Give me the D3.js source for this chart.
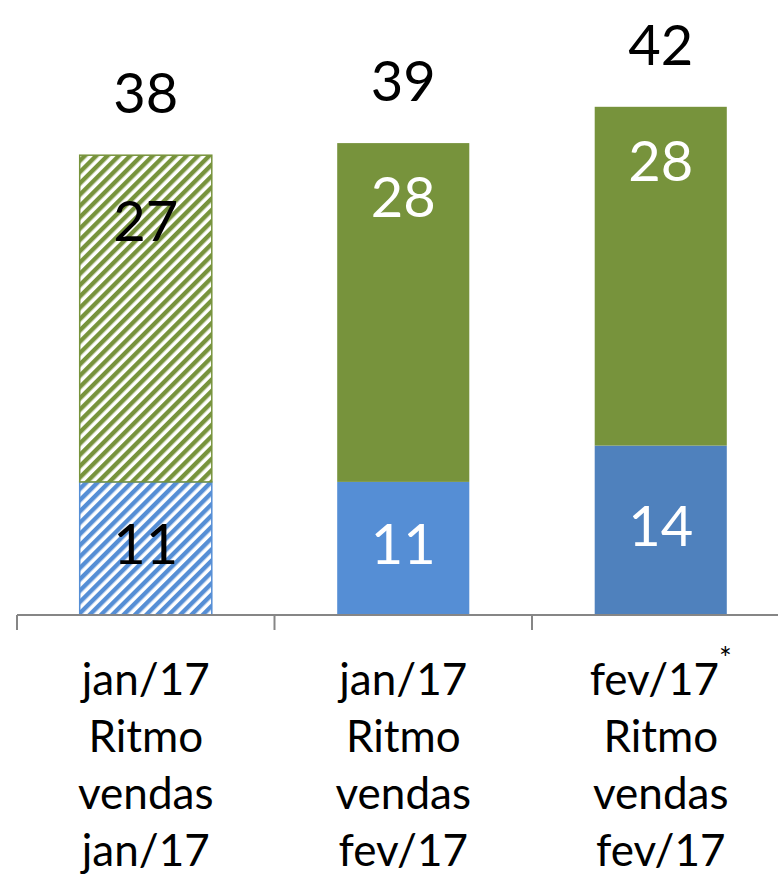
<!DOCTYPE html>
<html>
<head>
<meta charset="utf-8">
<script src="https://cdn.jsdelivr.net/npm/d3@7"></script>
<style>
  body { margin: 0; background: #fff; }
  text { font-family: Lato, "Noto Sans", sans-serif; }
</style>
</head>
<body>
<div id="chart"></div>
<script>
// chart data
var categories = ["a", "b", "c"];
var catLines = [
  ["jan/17", "Ritmo", "vendas", "jan/17"],
  ["jan/17", "Ritmo", "vendas", "fev/17"],
  ["fev/17", "Ritmo", "vendas", "fev/17"]
];
var catNote = ["", "", "*"];
var blueValues = [11, 11, 14];
var greenValues = [27, 28, 28];
var totals = [38, 39, 42];
var hatched = [true, false, false];

var svgWidth = 778;
var svgHeight = 875;
var baseY = 615;

var svg = d3.select("#chart")
  .append("svg")
  .attr("width", svgWidth)
  .attr("height", svgHeight);

// hatch patterns
var defs = svg.append("defs");
function hatch(id, color) {
  var p = defs.append("pattern")
    .attr("id", id)
    .attr("patternUnits", "userSpaceOnUse")
    .attr("width", 8)
    .attr("height", 8)
    .attr("patternTransform", "rotate(45)");
  p.append("rect").attr("width", 8).attr("height", 8).attr("fill", "#fff");
  p.append("rect").attr("width", 4.4).attr("height", 8).attr("fill", color);
}
hatch("hatchGreen", "#77933C");
hatch("hatchBlue", "#558ED5");

var x = d3.scaleBand()
  .domain(categories)
  .range([17, 17 + 3 * 257.5])
  .paddingInner(0.487)
  .paddingOuter(0.2435);

var y = d3.scaleLinear()
  .domain([0, 1])
  .range([baseY, baseY - 12.1]);

var bw = x.bandwidth();

// blue segments
svg.selectAll("rect.blue")
  .data(blueValues)
  .enter()
  .append("rect")
  .attr("class", "blue")
  .attr("x", (d, i) => x(categories[i]))
  .attr("y", d => y(d))
  .attr("width", bw)
  .attr("height", d => baseY - y(d))
  .attr("fill", (d, i) => hatched[i] ? "url(#hatchBlue)" : (i == 2 ? "#4F81BD" : "#558ED5"))
  .attr("stroke", (d, i) => hatched[i] ? "#558ED5" : "none")
  .attr("stroke-width", 1.5);

// green segments
svg.selectAll("rect.green")
  .data(greenValues)
  .enter()
  .append("rect")
  .attr("class", "green")
  .attr("x", (d, i) => x(categories[i]))
  .attr("y", (d, i) => y(d + blueValues[i]))
  .attr("width", bw)
  .attr("height", (d, i) => y(blueValues[i]) - y(d + blueValues[i]))
  .attr("fill", (d, i) => hatched[i] ? "url(#hatchGreen)" : "#77933C")
  .attr("stroke", (d, i) => hatched[i] ? "#77933C" : "none")
  .attr("stroke-width", 1.5);

// axis line + ticks
svg.append("line")
  .attr("x1", 17).attr("x2", svgWidth)
  .attr("y1", baseY).attr("y2", baseY)
  .attr("stroke", "#868686").attr("stroke-width", 2);

[0, 1, 2].forEach(function(i) {
  var tx = x(categories[i]) - x.step() * x.paddingOuter();
  svg.append("line")
    .attr("x1", tx).attr("x2", tx)
    .attr("y1", baseY).attr("y2", baseY + 15)
    .attr("stroke", "#868686").attr("stroke-width", 2);
});

// value labels
svg.selectAll("text.blueLabel")
  .data(blueValues)
  .enter()
  .append("text")
  .attr("x", (d, i) => x(categories[i]) + bw / 2)
  .attr("y", d => (y(d) + baseY) / 2 + 16)
  .attr("text-anchor", "middle")
  .attr("font-size", 56)
  .attr("fill", (d, i) => hatched[i] ? "#000" : "#fff")
  .text(d => d);

svg.selectAll("text.greenLabel")
  .data(greenValues)
  .enter()
  .append("text")
  .attr("x", (d, i) => x(categories[i]) + bw / 2)
  .attr("y", (d, i) => y(d + blueValues[i]) + (hatched[i] ? 86 : 74))
  .attr("text-anchor", "middle")
  .attr("font-size", 56)
  .attr("fill", (d, i) => hatched[i] ? "#000" : "#fff")
  .text(d => d);

svg.selectAll("text.total")
  .data(totals)
  .enter()
  .append("text")
  .attr("x", (d, i) => x(categories[i]) + bw / 2)
  .attr("y", d => y(d) - 42)
  .attr("text-anchor", "middle")
  .attr("font-size", 56)
  .attr("fill", "#000")
  .text(d => d);

// category labels
catLines.forEach(function(lines, i) {
  var t = svg.append("text")
    .attr("text-anchor", "middle")
    .attr("font-size", 44)
    .attr("fill", "#000");
  lines.forEach(function(l, j) {
    t.append("tspan")
      .attr("x", x(categories[i]) + bw / 2)
      .attr("y", 695 + j * 57)
      .text(l);
    if (j == 0 && catNote[i]) {
      t.append("tspan")
        .attr("dy", -26)
        .attr("font-size", 30)
        .text(catNote[i]);
    }
  });
});
</script>
</body>
</html>
